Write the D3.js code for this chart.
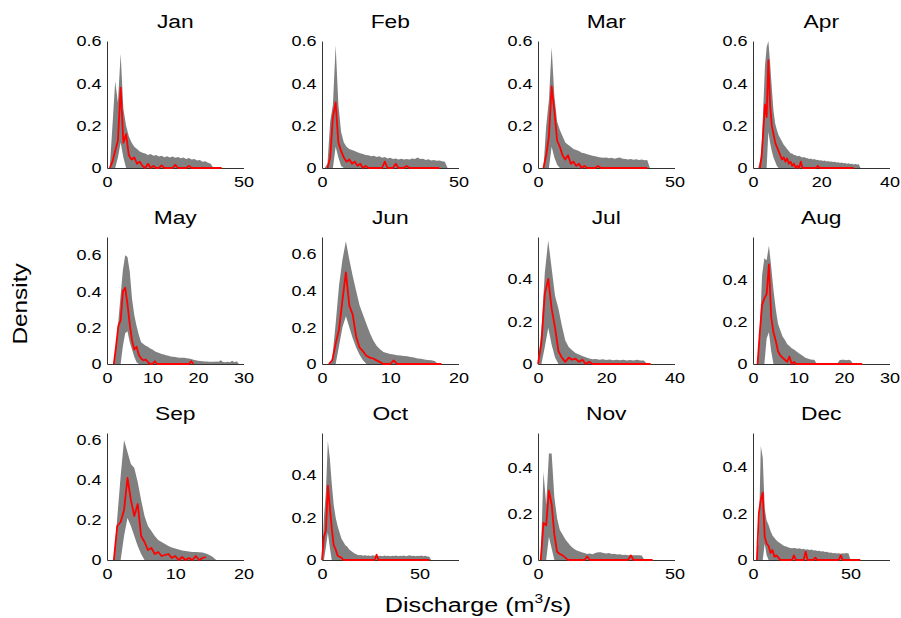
<!DOCTYPE html>
<html><head><meta charset="utf-8">
<script src="https://cdn.jsdelivr.net/npm/d3@7"></script>
<style>html,body{margin:0;padding:0;background:#fff;} svg{display:block;font-family:"Liberation Sans",Arial,Helvetica,sans-serif;}</style>
</head><body><svg id="chart" width="901" height="618"></svg>
<script>
// ---- data ----
const months = ["Jan","Feb","Mar","Apr","May","Jun","Jul","Aug","Sep","Oct","Nov","Dec"];
const binStep = [1,1,1,0.5,0.5,0.5,1,0.5,0.5,1,1,1];
const xMax = [50,50,50,40,30,20,40,30,20,70,50,70];
const yMax = [0.6,0.6,0.6,0.6,0.7,0.693,0.597,0.6,0.635,0.598,0.549,0.546];
const xTicks = [[0,50],[0,50],[0,50],[0,20,40],[0,10,20,30],[0,10,20],[0,20,40],[0,10,20,30],[0,10,20],[0,50],[0,50],[0,50]];
const yTicks = [[0,0.2,0.4,0.6],[0,0.2,0.4,0.6],[0,0.2,0.4,0.6],[0,0.2,0.4,0.6],[0,0.2,0.4,0.6],[0,0.2,0.4,0.6],[0,0.2,0.4],[0,0.2,0.4],[0,0.2,0.4,0.6],[0,0.2,0.4],[0,0.2,0.4],[0,0.2,0.4]];

const upperJan = [0,0,0.2,0.41,0.31,0.54,0.28,0.2,0.15,0.12,0.1,0.09,0.078,0.072,0.068,0.062,0.066,0.058,0.061,0.054,0.058,0.051,0.056,0.05,0.054,0.048,0.052,0.046,0.05,0.043,0.047,0.04,0.043,0.036,0.038,0.03,0.032,0.025,0.02,0];
const lowerJan = [0,0,0,0,0.05,0.12,0.05];
const medianJan = [null,0,0.03,0.08,0.13,0.38,0.12,0.16,0.06,0.04,0.05,0.02,0.03,0.01,0,0.02,0,0.01,0,0,0.012,0,0,0,0,0.015,0,0,0,0,0.01,0,0,0,0,0,0,0,0,0,0,0,0];

const upperFeb = [0,0,0.02,0.22,0.3,0.58,0.3,0.17,0.12,0.1,0.09,0.085,0.08,0.075,0.07,0.066,0.062,0.06,0.056,0.058,0.052,0.055,0.049,0.052,0.045,0.048,0.042,0.045,0.04,0.044,0.04,0.043,0.04,0.045,0.042,0.05,0.042,0.044,0.038,0.041,0.036,0.038,0.034,0.036,0.032,0.03,0];
const lowerFeb = [0,0,0,0,0,0.1,0.05,0.01];
const medianFeb = [null,null,0,0.05,0.24,0.31,0.12,0.08,0.05,0.03,0.04,0.02,0.03,0.01,0.02,0,0.01,0,0,0,0,0,0,0.03,0,0,0,0.02,0,0,0,0.01,0,0,0,0,0,0,0,0,0,0,0,0];

const upperMar = [0,0,0,0.2,0.32,0.57,0.34,0.22,0.18,0.15,0.12,0.11,0.1,0.09,0.085,0.08,0.072,0.07,0.065,0.062,0.058,0.056,0.052,0.05,0.048,0.05,0.046,0.048,0.044,0.047,0.05,0.044,0.042,0.04,0.042,0.039,0.041,0.038,0.04,0.037,0.038,0];
const lowerMar = [0,0,0,0,0,0.1,0.05,0.015];
const medianMar = [null,null,0,0.06,0.15,0.385,0.27,0.13,0.1,0.06,0.04,0.06,0.02,0.03,0.01,0.02,0,0.01,0,0,0,0,0.01,0,0,0,0,0,0,0,0,0,0,0,0,0,0,0,0,0,0];

const upperApr = [0,0,0,0,0.03,0.08,0.28,0.48,0.57,0.6,0.5,0.38,0.27,0.21,0.18,0.155,0.14,0.125,0.11,0.1,0.09,0.08,0.07,0.068,0.062,0.06,0.056,0.058,0.053,0.05,0.052,0.047,0.046,0.043,0.045,0.04,0.042,0.038,0.039,0.035,0.037,0.033,0.035,0.031,0.033,0.029,0.031,0.028,0.03,0.026,0.027,0.024,0.026,0.022,0.024,0.02,0.022,0.019,0.02,0.017,0.019,0.016,0.018,0];
const lowerApr = [0,0,0,0,0,0,0,0,0,0.17,0.12,0.08,0.05,0.03,0.01];
const medianApr = [null,null,null,null,0,0.05,0.17,0.3,0.24,0.51,0.3,0.2,0.16,0.12,0.1,0.08,0.06,0.04,0.05,0.03,0.045,0.02,0.03,0.01,0.02,0,0.01,0,0.03,0,0,0,0,0,0,0,0,0,0.01,0,0,0,0,0,0,0,0,0,0,0,0,0,0,0,0,0,0,0,0,0];

const upperMay = [0,0,0,0,0.1,0.24,0.38,0.52,0.6,0.59,0.51,0.36,0.27,0.21,0.16,0.12,0.11,0.1,0.095,0.085,0.08,0.07,0.065,0.06,0.055,0.052,0.048,0.045,0.042,0.04,0.038,0.036,0.035,0.034,0.034,0.032,0.03,0.028,0.024,0.02,0.018,0.017,0.015,0.014,0.014,0.013,0.013,0.012,0.014,0.012,0.02,0.011,0.01,0.012,0.01,0.018,0.01,0.015,0];
const lowerMay = [0,0,0,0,0,0,0,0.1,0.17,0.18,0.12,0.08,0.04,0.01];
const medianMay = [null,null,null,0,0.1,0.21,0.24,0.4,0.42,0.33,0.22,0.13,0.08,0.095,0.05,0.03,0.02,0.025,0.01,0,0,0.015,0,0,0,0,0,0,0,0,0,0,0,0,0,0,0,0.015,0];

const upperJun = [0,0,0,0.03,0.22,0.43,0.57,0.67,0.57,0.48,0.4,0.32,0.27,0.22,0.17,0.13,0.1,0.08,0.065,0.06,0.055,0.052,0.048,0.046,0.043,0.042,0.038,0.036,0.03,0.028,0.025,0.022,0.02,0.016,0];
const lowerJun = [0,0,0,0,0,0.1,0.2,0.26,0.2,0.14,0.09,0.05,0.02];
const medianJun = [null,null,0,0.02,0.11,0.19,0.35,0.5,0.32,0.27,0.15,0.09,0.07,0.045,0.035,0.03,0.02,0.01,0,0,0,0.02,0,0,0,0,0,0,0,0,0,0,0,0,0,0];

const upperJul = [0,0.16,0.43,0.58,0.45,0.32,0.26,0.18,0.11,0.08,0.065,0.052,0.045,0.038,0.032,0.026,0.022,0.024,0.02,0.022,0.019,0.021,0.018,0.02,0.018,0.02,0.017,0.019,0.016,0.02,0.016,0.017,0];
const lowerJul = [0,0,0.08,0.17,0.09,0.03];
const medianJul = [0,0.1,0.33,0.4,0.26,0.17,0.06,0.03,0.01,0.03,0.02,0.025,0.01,0.02,0,0.01,0,0,0,0,0,0,0,0,0,0,0,0,0,0,0,0,0,0];

const upperAug = [0,0,0,0.16,0.42,0.5,0.49,0.56,0.46,0.35,0.26,0.19,0.16,0.13,0.115,0.095,0.085,0.075,0.068,0.06,0.052,0.045,0.038,0.03,0.026,0.022,0.02,0.02,0,0,0,0,0,0,0,0,0,0,0.018,0.02,0.02,0.018,0.02,0.017,0,0,0,0];
const lowerAug = [0,0,0,0,0,0,0.12,0.15,0.06];
const medianAug = [null,null,0,0.15,0.28,0.31,0.33,0.47,0.22,0.15,0.11,0.06,0.04,0.03,0.02,0.01,0.035,0,0.01,0,0,0,0,0,0,0,0,0,0,0,0,0,0,0,0,0,0,0,0,0,0,0,0,0,0,0,0,0,0];

const upperSep = [0,0,0,0.21,0.42,0.6,0.54,0.48,0.46,0.39,0.3,0.22,0.17,0.145,0.12,0.1,0.09,0.08,0.07,0.062,0.057,0.052,0.047,0.045,0.042,0.04,0.04,0.039,0.038,0.033,0.025,0.015,0];
const lowerSep = [0,0,0,0,0,0.12,0.21,0.17,0.12,0.07,0.03];
const medianSep = [null,null,0,0.17,0.19,0.25,0.41,0.3,0.22,0.28,0.12,0.09,0.05,0.06,0.03,0.04,0.02,0.025,0.03,0.01,0.02,0,0.015,0,0.01,0,0.02,0,0.01,0.015];

const upperOct = [0,0.2,0.32,0.56,0.48,0.36,0.26,0.2,0.16,0.13,0.1,0.085,0.07,0.062,0.05,0.042,0.035,0.03,0.025,0.022,0.024,0.02,0.022,0.02,0.021,0.019,0.022,0.02,0.021,0.019,0.02,0.018,0.021,0.019,0.02,0.018,0.02,0.019,0.021,0.018,0.02,0.019,0.021,0.018,0.02,0.022,0.019,0.02,0.018,0.02,0.019,0.021,0.018,0.02,0.017,0.015,0];
const lowerOct = [0,0,0.06,0.13,0.06];
const medianOct = [0,0.11,0.14,0.35,0.25,0.15,0.07,0.05,0.02,0.015,0.01,0,0,0,0,0,0,0,0,0,0,0,0,0,0,0,0,0,0.025,0,0,0,0,0,0,0,0,0,0,0,0,0,0,0,0,0,0,0,0,0,0,0,0,0,0,0];

const upperNov = [0,0,0.38,0.24,0.46,0.46,0.27,0.18,0.13,0.11,0.09,0.075,0.06,0.05,0.042,0.038,0.033,0.03,0.026,0.028,0.025,0.03,0.033,0.034,0.03,0.028,0.03,0.026,0.027,0.024,0.025,0.022,0.023,0.021,0.022,0.02,0.021,0.02,0.019,0];
const lowerNov = [0,0,0,0,0.1,0.05];
const medianNov = [null,0,0.16,0.15,0.3,0.24,0.11,0.035,0.026,0.02,0.01,0,0,0,0,0,0,0,0.015,0,0,0,0,0,0,0,0,0,0,0,0,0,0,0,0.02,0,0,0,0,0,0,0,0];

const upperDec = [0,0,0,0.1,0.49,0.44,0.22,0.17,0.15,0.125,0.105,0.095,0.085,0.077,0.072,0.066,0.06,0.058,0.055,0.052,0.05,0.052,0.05,0.048,0.05,0.046,0.048,0.044,0.046,0.043,0.045,0.041,0.042,0.039,0.04,0.037,0.038,0.034,0.035,0.031,0.032,0.029,0.03,0.028,0.029,0.027,0.029,0.028,0.03,0.028,0];
const lowerDec = [0,0,0,0,0,0,0.07,0.02];
const medianDec = [null,null,0,0.2,0.26,0.29,0.1,0.07,0.06,0.03,0.043,0.014,0.02,0.01,0,0,0,0,0,0,0,0.02,0,0,0,0,0,0.036,0,0,0,0,0.01,0,0,0,0,0,0,0,0,0,0,0,0,0.02,0,0,0,0,0,0,0,0,0,0];

const upperAll = [upperJan,upperFeb,upperMar,upperApr,upperMay,upperJun,upperJul,upperAug,upperSep,upperOct,upperNov,upperDec];
const lowerAll = [lowerJan,lowerFeb,lowerMar,lowerApr,lowerMay,lowerJun,lowerJul,lowerAug,lowerSep,lowerOct,lowerNov,lowerDec];
const medianAll = [medianJan,medianFeb,medianMar,medianApr,medianMay,medianJun,medianJul,medianAug,medianSep,medianOct,medianNov,medianDec];

// ---- layout ----
const colX = [107, 322, 538, 753];
const rowBottom = [168, 364, 560];
const plotW = 136.5, plotH = 127;
const svg = d3.select("#chart");
const txtScale = 1.2;

months.forEach((m, i) => {
  const c = i % 4, r = Math.floor(i / 4);
  const x = d3.scaleLinear().domain([0, xMax[i]]).range([colX[c], colX[c] + plotW]);
  const y = d3.scaleLinear().domain([0, yMax[i]]).range([rowBottom[r], rowBottom[r] - plotH]);
  const g = svg.append("g");

  // axes
  const ax = g.append("g").attr("transform", `translate(0,${rowBottom[r]})`)
    .call(d3.axisBottom(x).tickValues(xTicks[i]).tickSize(0).tickPadding(8).tickFormat(d3.format("d")));
  const ay = g.append("g").attr("transform", `translate(${colX[c]},0)`)
    .call(d3.axisLeft(y).tickValues(yTicks[i]).tickSize(0).tickPadding(4.5).tickFormat(d => d === 0 ? "0" : String(d)));
  [ax, ay].forEach(a => {
    a.select(".domain").attr("stroke", "#333").attr("stroke-width", 1);
    a.selectAll("text").attr("font-size", 15).attr("fill", "#000")
      .attr("font-family", '"Liberation Sans", Arial, sans-serif')
      .attr("transform", `scale(${txtScale},1)`);
  });

  // band
  const st = binStep[i];
  const up = upperAll[i], lo = lowerAll[i], md = medianAll[i];
  const pts = up.map((u, k) => ({ x: k * st, u: u, l: lo[k] || 0 }));
  g.append("path").datum(pts)
    .attr("fill", "#808080").attr("stroke", "none")
    .attr("d", d3.area().defined(d => d.u != null).x(d => x(d.x)).y0(d => y(d.l)).y1(d => y(d.u)));

  const mpts = md.map((v, k) => ({ x: k * st, v: v }));
  g.append("path").datum(mpts)
    .attr("fill", "none").attr("stroke", "#ff0000").attr("stroke-width", 1.8).attr("stroke-linejoin", "round")
    .attr("d", d3.line().defined(d => d.v != null).x(d => x(d.x)).y(d => y(d.v)));

  // title
  g.append("text")
    .attr("transform", `translate(${colX[c] + plotW / 2},${rowBottom[r] - plotH - 13}) scale(${txtScale},1)`)
    .attr("text-anchor", "middle").attr("font-size", 19).attr("fill", "#000").text(m);
});

// axis titles
svg.append("text")
  .attr("transform", `translate(27,304) rotate(-90) scale(1.25,1)`)
  .attr("text-anchor", "middle").attr("font-size", 19.5).attr("fill", "#000").text("Density");

const xl = svg.append("text")
  .attr("transform", `translate(478,612) scale(${txtScale},1)`)
  .attr("text-anchor", "middle").attr("font-size", 21).attr("fill", "#000");
xl.append("tspan").text("Discharge (m");
xl.append("tspan").attr("font-size", 13).attr("dy", -9).text("3");
xl.append("tspan").attr("dy", 9).text("/s)");
</script></body></html>
